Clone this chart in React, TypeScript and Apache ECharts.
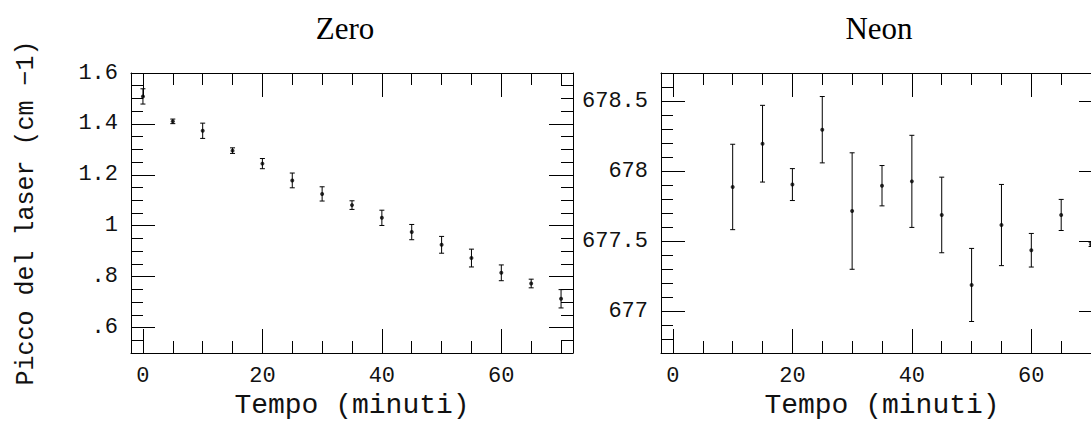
import React, { useEffect, useRef } from "react";
import * as echarts from "echarts";

// ---- data ----
const zeroTime = [0, 5, 10, 15, 20, 25, 30, 35, 40, 45, 50, 55, 60, 65, 70];
const zeroPeak = [1.508, 1.41, 1.373, 1.295, 1.244, 1.178, 1.125, 1.081, 1.031, 0.975, 0.925, 0.873, 0.815, 0.773, 0.713];
const zeroErr = [0.03, 0.009, 0.03, 0.011, 0.02, 0.029, 0.028, 0.017, 0.03, 0.03, 0.033, 0.035, 0.031, 0.017, 0.036];

const neonTime = [10, 15, 20, 25, 30, 35, 40, 45, 50, 55, 60, 65, 70];
const neonPeak = [677.886, 678.195, 677.903, 678.295, 677.714, 677.895, 677.926, 677.686, 677.186, 677.614, 677.434, 677.686, 677.476];
const neonErr = [0.305, 0.274, 0.114, 0.237, 0.416, 0.144, 0.329, 0.27, 0.261, 0.29, 0.12, 0.111, 0.015];

// ---- ticks ----
const xMajor = [0, 20, 40, 60];
const xMinor = [5, 10, 15, 25, 30, 35, 45, 50, 55, 65, 70];
const zeroYMajor = [0.6, 0.8, 1, 1.2, 1.4, 1.6];
const zeroYMinor = [0.55, 0.65, 0.7, 0.75, 0.85, 0.9, 0.95, 1.05, 1.1, 1.15, 1.25, 1.3, 1.35, 1.45, 1.5, 1.55];
const neonYMajor = [677, 677.5, 678, 678.5];
const neonYMinor = [676.8, 676.9, 677.1, 677.2, 677.3, 677.4, 677.6, 677.7, 677.8, 677.9, 678.1, 678.2, 678.3, 678.4, 678.6];

const titles = ["Zero", "Neon"];
const xTitle = "Tempo (minuti)";
const yTitle = "Picco del laser (cm \u22121)";

const MONO = '"Liberation Mono", "DejaVu Sans Mono", monospace';
const SERIF = '"Liberation Serif", "DejaVu Serif", serif';
const BLACK = "#000";
const TEXT = "#111";
const MAJOR_LEN = 24;
const MINOR_LEN = 12;

function makeX(gridIndex: number, withName: boolean) {
  const common = { type: "value", gridIndex, min: -2, max: 72, splitLine: { show: false } };
  const mk = (position: string, ticks: number[], len: number, line: boolean, labels: boolean) => ({
    ...common,
    position,
    offset: 0,
    axisLine: { show: line, onZero: false, lineStyle: { color: BLACK, width: 1 } },
    axisTick: { show: true, inside: true, length: len, customValues: ticks, lineStyle: { color: BLACK, width: 1 } },
    axisLabel: labels
      ? { show: true, customValues: ticks, margin: 12, color: TEXT, fontFamily: MONO, fontSize: 22 }
      : { show: false },
    ...(labels && withName
      ? {
          name: xTitle,
          nameLocation: "middle",
          nameGap: 38,
          nameTextStyle: { color: TEXT, fontFamily: MONO, fontSize: 28 },
        }
      : {}),
  });
  return [
    mk("bottom", xMajor, MAJOR_LEN, true, true),
    mk("bottom", xMinor, MINOR_LEN, false, false),
    mk("top", xMajor, MAJOR_LEN, true, false),
    mk("top", xMinor, MINOR_LEN, false, false),
  ];
}

function makeY(gridIndex: number, min: number, max: number, major: number[], minor: number[], fmt: (v: number) => string, name?: string) {
  const common = { type: "value", gridIndex, min, max, splitLine: { show: false }, scale: true };
  const mk = (position: string, ticks: number[], len: number, line: boolean, labels: boolean) => ({
    ...common,
    position,
    offset: 0,
    axisLine: { show: line, onZero: false, lineStyle: { color: BLACK, width: 1 } },
    axisTick: { show: true, inside: true, length: len, customValues: ticks, lineStyle: { color: BLACK, width: 1 } },
    axisLabel: labels
      ? { show: true, customValues: ticks, margin: 13, color: TEXT, fontFamily: MONO, fontSize: 22, formatter: fmt }
      : { show: false },
    ...(labels && name
      ? {
          name,
          nameLocation: "middle",
          nameGap: 92,
          nameRotate: 90,
          nameTextStyle: { color: TEXT, fontFamily: MONO, fontSize: 25 },
        }
      : {}),
  });
  return [
    mk("left", major, MAJOR_LEN, true, true),
    mk("left", minor, MINOR_LEN, false, false),
    mk("right", major, MAJOR_LEN, true, false),
    mk("right", minor, MINOR_LEN, false, false),
  ];
}

function errorSeries(times: number[], vals: number[], errs: number[], axisIndex: number) {
  const data = times.map((t, i) => [t, vals[i], errs[i]]);
  return [
    {
      type: "custom",
      xAxisIndex: axisIndex,
      yAxisIndex: axisIndex,
      encode: { x: 0, y: 1 },
      data,
      clip: false,
      renderItem: (_params: any, api: any) => {
        const x = api.value(0);
        const y = api.value(1);
        const e = api.value(2);
        const top = api.coord([x, y + e]);
        const bot = api.coord([x, y - e]);
        const c = 2.5;
        const st = { stroke: BLACK, lineWidth: 1 };
        return {
          type: "group",
          children: [
            { type: "line", shape: { x1: top[0], y1: top[1], x2: bot[0], y2: bot[1] }, style: st },
            { type: "line", shape: { x1: top[0] - c, y1: top[1], x2: top[0] + c, y2: top[1] }, style: st },
            { type: "line", shape: { x1: bot[0] - c, y1: bot[1], x2: bot[0] + c, y2: bot[1] }, style: st },
          ],
        };
      },
    },
    {
      type: "scatter",
      xAxisIndex: axisIndex,
      yAxisIndex: axisIndex,
      data: times.map((t, i) => [t, vals[i]]),
      symbol: "circle",
      symbolSize: 4,
      itemStyle: { color: BLACK },
      clip: false,
    },
  ];
}

const zeroFmt = (v: number) => {
  const s = String(Math.round(v * 100) / 100);
  return s.startsWith("0.") ? s.slice(1) : s;
};
const neonFmt = (v: number) => String(Math.round(v * 10) / 10);

export default function App() {
  const ref = useRef<HTMLDivElement>(null);
  useEffect(() => {
    if (!ref.current) return;
    const chart = echarts.init(ref.current, undefined, { renderer: "svg" });
    const textStyleBase = {
      font: `31px ${SERIF}`,
      fill: BLACK,
      align: "center",
      verticalAlign: "middle",
      textAlign: "center",
      textVerticalAlign: "middle",
    };
    chart.setOption({
      animation: false,
      backgroundColor: "#fff",
      grid: [
        { left: 131, top: 73, width: 442, height: 280, containLabel: false, outerBoundsMode: "none" },
        { left: 661, top: 73, width: 442, height: 280, containLabel: false, outerBoundsMode: "none" },
      ],
      xAxis: [...makeX(0, true), ...makeX(1, true)],
      yAxis: [
        ...makeY(0, 0.5, 1.6, zeroYMajor, zeroYMinor, zeroFmt, yTitle),
        ...makeY(1, 676.7, 678.7, neonYMajor, neonYMinor, neonFmt),
      ],
      graphic: [
        { type: "text", x: 345, y: 28, style: { ...textStyleBase, text: titles[0] } },
        { type: "text", x: 879, y: 28, style: { ...textStyleBase, text: titles[1] } },
      ],
      series: [
        ...errorSeries(zeroTime, zeroPeak, zeroErr, 0),
        ...errorSeries(neonTime, neonPeak, neonErr, 4),
      ],
    });
    return () => chart.dispose();
  }, []);
  return (
    <div
      ref={ref}
      style={{ position: "absolute", left: 0, top: 0, width: 1091, height: 421, background: "#fff" }}
    />
  );
}
